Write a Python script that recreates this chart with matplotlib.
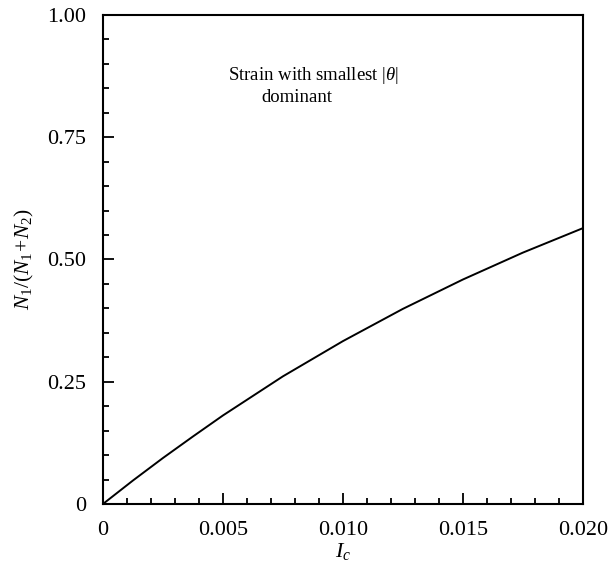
import matplotlib
matplotlib.use("Agg")
import matplotlib.pyplot as plt
from matplotlib.ticker import MultipleLocator, FixedLocator

plt.rcParams["font.family"] = ["Liberation Serif", "DejaVu Serif"]
plt.rcParams["mathtext.fontset"] = "custom"
plt.rcParams["mathtext.rm"] = "Liberation Serif"
plt.rcParams["mathtext.it"] = "Liberation Serif:italic"

# I_c values and fraction N1/(N1+N2)
IC = [0, 0.00125, 0.0025, 0.00375, 0.005, 0.0075, 0.010, 0.0125, 0.015, 0.0175, 0.020]
FRACTION = [0, 0.048, 0.094, 0.138, 0.181, 0.261, 0.333, 0.399, 0.459, 0.514, 0.564]

X_TICKS = [0, 0.005, 0.010, 0.015, 0.020]
X_LABELS = ["0", "0.005", "0.010", "0.015", "0.020"]
Y_TICKS = [0, 0.25, 0.50, 0.75, 1.00]
Y_LABELS = ["0", "0.25", "0.50", "0.75", "1.00"]

fig = plt.figure(figsize=(6.09, 5.76), dpi=100)
ax = fig.add_axes([0.169, 0.125, 0.788, 0.849])

ax.plot(IC, FRACTION, color="black", linewidth=1.4)

ax.set_xlim(0, 0.020)
ax.set_ylim(0, 1.0)
ax.xaxis.set_major_locator(FixedLocator(X_TICKS))
ax.set_xticklabels(X_LABELS)
ax.yaxis.set_major_locator(FixedLocator(Y_TICKS))
ax.set_yticklabels(Y_LABELS)
ax.xaxis.set_minor_locator(MultipleLocator(0.001))
ax.yaxis.set_minor_locator(MultipleLocator(0.05))

ax.tick_params(which="both", direction="in", top=False, right=False,
               width=1.3)
ax.tick_params(axis="x", labelsize=16, pad=12)
ax.tick_params(axis="y", labelsize=16, pad=12)
ax.tick_params(which="major", length=8)
ax.tick_params(which="minor", length=4.5)
for s in ax.spines.values():
    s.set_linewidth(1.5)

ax.set_xlabel("$I_c$", fontsize=16, labelpad=1)
ax.set_ylabel("$N_1/(N_1\\!+\\!N_2)$", fontsize=15.5, labelpad=8)

ax.text(0.26, 0.877, "Strain with smallest $|\\theta|$", transform=ax.transAxes,
        fontsize=13.5, va="center", ha="left")
ax.text(0.33, 0.832, "dominant", transform=ax.transAxes,
        fontsize=13.5, va="center", ha="left")

fig.savefig("out.png", dpi=100)
